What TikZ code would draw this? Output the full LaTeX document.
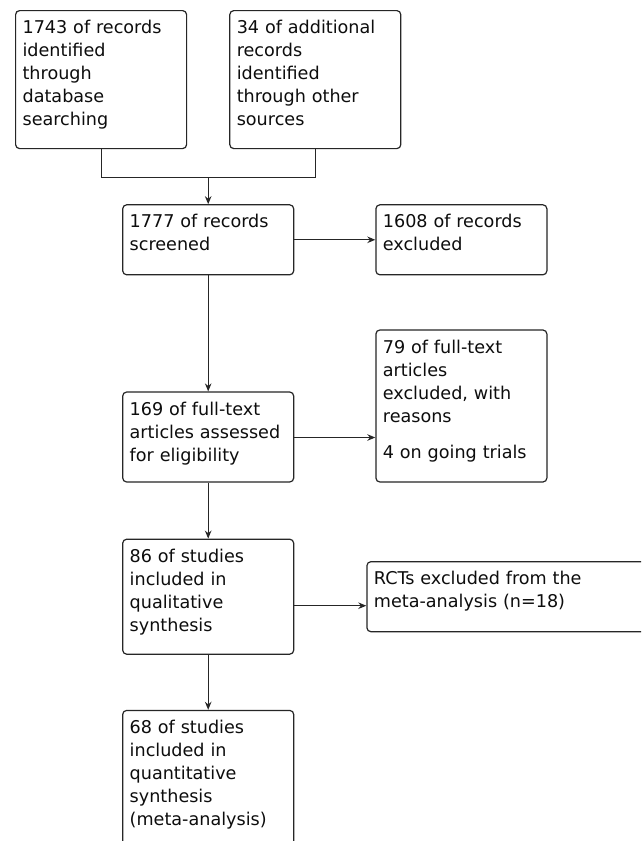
\documentclass[tikz,border=0pt]{standalone}
\usepackage{fontspec}
\setmainfont{DejaVu Sans}
\usetikzlibrary{positioning,calc,arrows.meta}

\begin{document}
\begin{tikzpicture}[
    x=1pt, y=1pt,
    font=\fontsize{17.6pt}{23pt}\selectfont,
    >={Stealth[length=8pt, width=6.5pt]},
    box/.style={rectangle, draw=black!85, line width=1.2pt, rounded corners=4pt, text=black!95, align=left, text width=157pt, inner xsep=7pt, inner ysep=7pt, text height=16pt},
    arrow/.style={->, line width=1.2pt, draw=black!85},
    line/.style={line width=1.2pt, draw=black!85}
]

    % Picture frame
    \clip (0,0) rectangle (641,-841);
    \fill [white] (0,0) rectangle (641,-841);

    % Identification
    \node (search) [box, anchor=north west, text depth=108pt] at (15,-10) {1743 of records \\ identified \\ through \\ database \\ searching};
    \node (other) [box, right=42pt of search, text depth=108pt] {34 of additional \\ records \\ identified \\ through other \\ sources};
    \coordinate (merge) at ($(search.south)!0.5!(other.south)+(0,-28)$);

    % Screening
    \node (screened) [box, below=27pt of merge, text depth=40pt] {1777 of records \\ screened};
    \node (excluded) [box, right=81pt of screened, text depth=40pt] {1608 of records \\ excluded};

    % Eligibility
    \node (fulltext) [box, below=116pt of screened, text depth=60pt] {169 of full-text \\ articles assessed \\ for eligibility};
    \node (reasons) [box, right=81pt of fulltext.south east, anchor=south west, text depth=122pt] {79 of full-text \\ articles \\ excluded, with \\ reasons \\[13pt] 4 on going trials};

    % Included
    \node (qual) [box, below=56pt of fulltext, text depth=85pt] {86 of studies \\ included in \\ qualitative \\ synthesis};
    \node (rcts) [box, right=72pt of qual, text width=290pt, text depth=40pt] {RCTs excluded from the \\ meta-analysis (n=18)};
    \node (quant) [box, below=55pt of qual, text depth=110pt] {68 of studies \\ included in \\ quantitative \\ synthesis \\ (meta-analysis)};

    % Flow arrows
    \draw [line] (search.south) |- (merge);
    \draw [line] (other.south) |- (merge);
    \draw [arrow] (merge) -- (screened);
    \draw [arrow] (screened) -- (excluded);
    \draw [arrow] (screened) -- (fulltext);
    \draw [arrow] ([yshift=-0.5pt]fulltext.east) -- ([yshift=-0.5pt]fulltext.east -| reasons.west);
    \draw [arrow] (fulltext) -- (qual);
    \draw [arrow] ([yshift=-9pt]qual.east) -- ([yshift=-9pt]qual.east -| rcts.west);
    \draw [arrow] (qual) -- (quant);

\end{tikzpicture}
\end{document}
